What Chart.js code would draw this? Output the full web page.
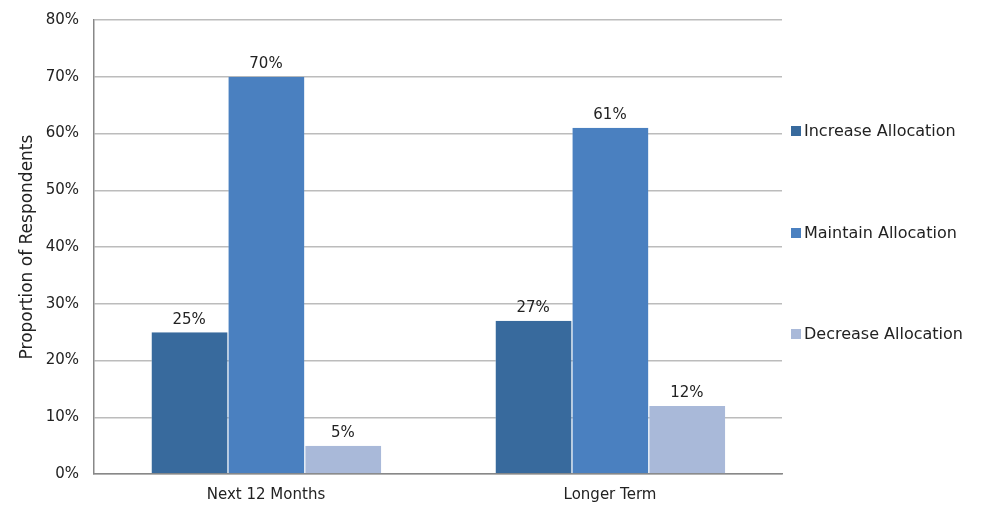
<!DOCTYPE html>
<html>
<head>
<meta charset="utf-8">
<script src="https://cdn.jsdelivr.net/npm/chart.js@4/dist/chart.umd.min.js"></script>
<style>
  html, body { margin: 0; padding: 0; background: #fff; }
  #wrap { width: 986px; height: 505px; }
</style>
</head>
<body>
<div id="wrap"><canvas id="allocChart" width="986" height="505"></canvas></div>
<script>
// Categories and series
const horizons = ['Next 12 Months', 'Longer Term'];
const increaseAlloc = [25, 27];
const maintainAlloc = [70, 61];
const decreaseAlloc = [5, 12];
const yTicks = [0, 10, 20, 30, 40, 50, 60, 70, 80];

const FONT = '"DejaVu Sans", sans-serif';

// Value labels above each bar
const barLabels = {
    id: 'barLabels',
    afterDatasetsDraw(chart) {
        const ctx = chart.ctx;
        ctx.save();
        ctx.font = '15px ' + FONT;
        ctx.fillStyle = '#222';
        ctx.textAlign = 'center';
        ctx.textBaseline = 'bottom';
        chart.data.datasets.forEach((ds, i) => {
            chart.getDatasetMeta(i).data.forEach((bar, j) => {
                ctx.fillText(ds.data[j] + '%', bar.x, bar.y - 5);
            });
        });
        ctx.restore();
    }
};

// Legend drawn in the space right of the plot, one item per series, spread out
const sideLegend = {
    id: 'sideLegend',
    afterDraw(chart) {
        const ctx = chart.ctx;
        const area = chart.chartArea;
        const x0 = area.right + 9;
        const rows = [131, 233, 334];
        ctx.save();
        ctx.font = '16px ' + FONT;
        ctx.textBaseline = 'middle';
        ctx.textAlign = 'left';
        chart.data.datasets.forEach((ds, i) => {
            const y = rows[i];
            ctx.fillStyle = ds.backgroundColor;
            ctx.fillRect(x0, y - 5, 10, 10);
            ctx.fillStyle = '#222';
            ctx.fillText(ds.label, x0 + 13, y + 1);
        });
        ctx.restore();
    }
};

new Chart(document.getElementById('allocChart').getContext('2d'), {
    type: 'bar',
    data: {
        labels: horizons,
        datasets: [
            { label: 'Increase Allocation', data: increaseAlloc, backgroundColor: '#386a9d' },
            { label: 'Maintain Allocation', data: maintainAlloc, backgroundColor: '#4a80c0' },
            { label: 'Decrease Allocation', data: decreaseAlloc, backgroundColor: '#a9b9d9' }
        ]
    },
    options: {
        responsive: false,
        animation: false,
        datasets: {
            bar: {
                categoryPercentage: 0.67,
                barPercentage: 1.0,
                borderWidth: { left: 1, right: 0, top: 0, bottom: 0 },
                borderColor: 'rgba(255,255,255,0.35)'
            }
        },
        layout: { padding: { top: 20, left: 0, right: 204, bottom: 0 } },
        plugins: {
            legend: { display: false },
            tooltip: { enabled: false }
        },
        scales: {
            x: {
                afterFit: s => { s.height = 31; },
                grid: { display: false },
                border: { color: '#888', width: 1.5 },
                ticks: { font: { family: FONT, size: 15 }, color: '#222', padding: 4 }
            },
            y: {
                min: 0,
                max: 80,
                afterFit: s => { s.width = 94; s.paddingTop = 0; s.paddingBottom = 0; },
                afterBuildTicks: axis => { axis.ticks = yTicks.map(v => ({ value: v })); },
                grid: { color: '#bcbcbc', drawTicks: false, lineWidth: 1.5 },
                border: { color: '#888', width: 1.5 },
                ticks: {
                    font: { family: FONT, size: 15 },
                    color: '#222',
                    padding: 15,
                    callback: v => v + '%'
                },
                title: {
                    display: true,
                    text: 'Proportion of Respondents',
                    font: { family: FONT, size: 17 },
                    color: '#222',
                    padding: { top: 17, bottom: 0 }
                }
            }
        }
    },
    plugins: [barLabels, sideLegend]
});
</script>
</body>
</html>
